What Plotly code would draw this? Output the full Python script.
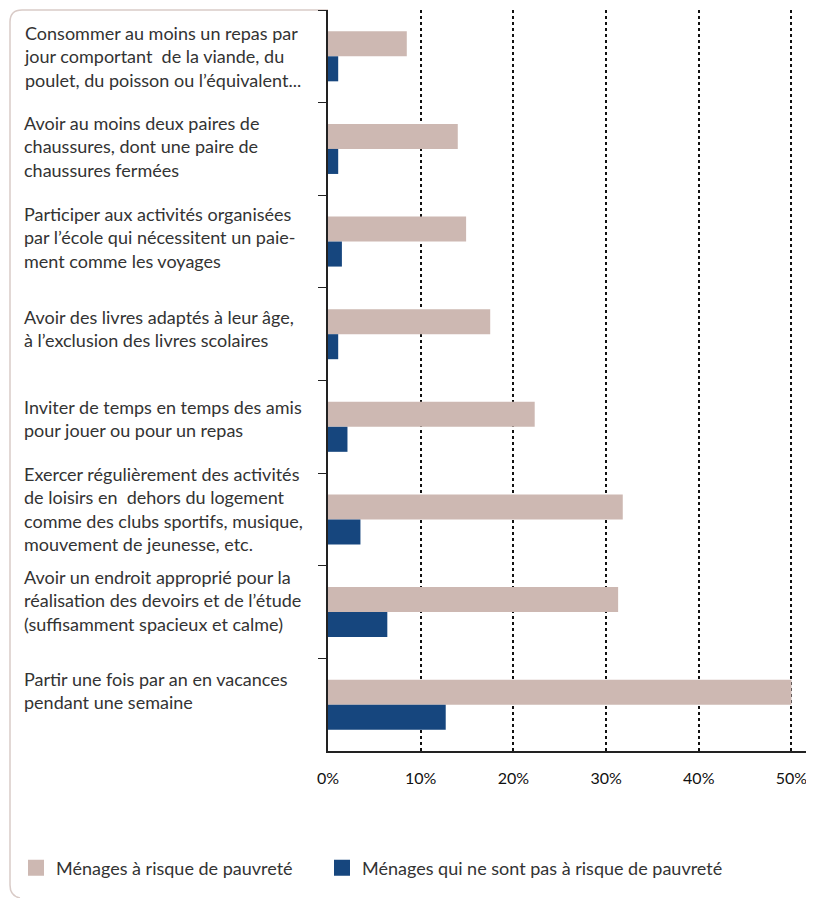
import plotly.graph_objects as go

categories = [
    "Consommer au moins un repas par<br>jour comportant  de la viande, du<br>poulet, du poisson ou l’équivalent...",
    "Avoir au moins deux paires de<br>chaussures, dont une paire de<br>chaussures fermées",
    "Participer aux activités organisées<br>par l’école qui nécessitent un paie-<br>ment comme les voyages",
    "Avoir des livres adaptés à leur âge,<br>à l’exclusion des livres scolaires",
    "Inviter de temps en temps des amis<br>pour jouer ou pour un repas",
    "Exercer régulièrement des activités<br>de loisirs en  dehors du logement<br>comme des clubs sportifs, musique,<br>mouvement de jeunesse, etc.",
    "Avoir un endroit approprié pour la<br>réalisation des devoirs et de l’étude<br>(suffisamment spacieux et calme)",
    "Partir une fois par an en vacances<br>pendant une semaine",
]
risk_values = [8.5, 14.0, 14.9, 17.5, 22.3, 31.8, 31.3, 50.0]
no_risk_values = [1.1, 1.1, 1.5, 1.1, 2.1, 3.5, 6.4, 12.7]
tick_values = [0, 10, 20, 30, 40, 50]
tick_labels = ["0%", "10%", "20%", "30%", "40%", "50%"]
series_names = ["Ménages à risque de pauvreté", "Ménages qui ne sont pas à risque de pauvreté"]

# page body adds an 8px offset; figure is sized to compensate
OFF = 8
W, H = 806, 890
L, T = 320, 2
R = W - (810 - OFF)
B = H - (751 - OFF)
PW, PH = W - L - R, H - T - B

FONT = "Lato, 'Open Sans', sans-serif"
ROSE = "#cdb8b2"
BLUE = "#16467e"


def px_x(p):
    return (p - OFF - L) / PW


def px_y(p):
    return 1 - (p - OFF - T) / PH


fig = go.Figure()
fig.add_trace(go.Bar(y=categories, x=risk_values, orientation="h", name=series_names[0],
                     marker=dict(color=ROSE, line=dict(width=0)), showlegend=False))
fig.add_trace(go.Bar(y=categories, x=no_risk_values, orientation="h", name=series_names[1],
                     marker=dict(color=BLUE, line=dict(width=0)), showlegend=False))
# legend entries with larger square swatches, each in its own legend box
for name, col, lg in zip(series_names, [ROSE, BLUE], ["legend", "legend2"]):
    fig.add_trace(go.Scatter(x=[None], y=[None], mode="markers", name=name, legend=lg,
                             marker=dict(symbol="square", size=20, color=col)))

for i, c in enumerate(categories):
    fig.add_annotation(x=0, xref="paper", y=c, yref="y", text=c, showarrow=False,
                       xanchor="left", yanchor="middle", align="left", xshift=-306,
                       yshift=2 * i,
                       font=dict(family=FONT, size=18, color="#333333"))

# rounded frame
path = (f"M {px_x(328)},{px_y(10)} L {px_x(22)},{px_y(10)} "
        f"Q {px_x(10)},{px_y(10)} {px_x(10)},{px_y(22)} "
        f"L {px_x(10)},{px_y(885)} Q {px_x(10)},{px_y(896)} {px_x(20)},{px_y(898)}")
fig.add_shape(type="path", path=path, xref="paper", yref="paper",
              line=dict(color="#d9cbc7", width=1.5), layer="below")

legend_common = dict(orientation="h", xanchor="left", yanchor="middle",
                     font=dict(family=FONT, size=18, color="#333333"),
                     itemwidth=30, bgcolor="rgba(0,0,0,0)")

fig.update_layout(
    width=W, height=H,
    margin=dict(l=L, r=R, t=T, b=B),
    barmode="group", bargap=0.46, bargroupgap=0,
    plot_bgcolor="white", paper_bgcolor="white",
    font=dict(family=FONT, size=15, color="#222222"),
    showlegend=True,
    legend=dict(x=px_x(16), y=px_y(868), **legend_common),
    legend2=dict(x=px_x(322), y=px_y(868), **legend_common),
    xaxis=dict(range=[0, 52], tickvals=tick_values, ticktext=tick_labels,
               showgrid=True, gridcolor="#111111", griddash="dot", gridwidth=1.5,
               zeroline=False, showline=True, linecolor="#222222", linewidth=1.5,
               ticks="outside", ticklen=12, tickcolor="rgba(0,0,0,0)",
               tickfont=dict(family=FONT, size=16, color="#111111")),
    yaxis=dict(autorange="reversed", showticklabels=False, showgrid=False,
               showline=True, linecolor="#222222", linewidth=1.5,
               ticks="outside", tickson="boundaries", ticklen=8, tickcolor="#222222"),
)

fig.write_html("out.html")
